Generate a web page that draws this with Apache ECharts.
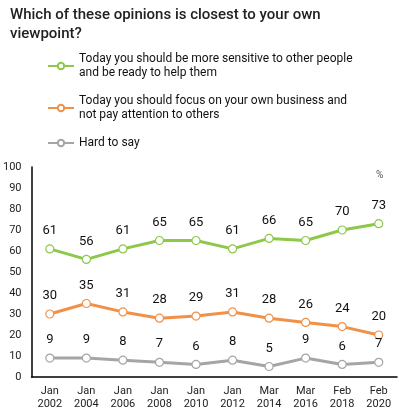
<!DOCTYPE html>
<html><head><meta charset="utf-8">
<script src="https://cdn.jsdelivr.net/npm/echarts@6/dist/echarts.min.js"></script>
<style>html,body{margin:0;padding:0;background:#fff}#c{width:399px;height:416px}</style>
</head><body><div id="c"></div>
<script>
const categories = ['Jan\n2002','Jan\n2004','Jan\n2006','Jan\n2008','Jan\n2010','Jan\n2012','Mar\n2014','Mar\n2016','Feb\n2018','Feb\n2020'];
const sensitive = [61,56,61,65,65,61,66,65,70,73];
const ownBusiness = [30,35,31,28,29,31,28,26,24,20];
const hardToSay = [9,9,8,7,6,8,5,9,6,7];
const seriesNames = ['Today you should be more sensitive to other people\nand be ready to help them','Today you should focus on your own business and\nnot pay attention to others','Hard to say'];
const colors = ['#8DC84A','#F0914A','#A5A5A5'];

const font = 'Roboto, "Noto Sans", sans-serif';
function mk(name, data, color){
  return {
    name, type:'line', data, color,
    symbol:'circle', symbolSize:8,
    itemStyle:{color:'#fff', borderColor:color, borderWidth:1.2},
    lineStyle:{color, width:3},
    label:{show:true, position:'top', distance:7, color:'#111', fontSize:13, fontFamily:font},
    emphasis:{disabled:true}, animation:false
  };
}
const chart = echarts.init(document.getElementById('c'));
chart.setOption({
  animation:false,
  title:{text:'Which of these opinions is closest to your own\nviewpoint?', left:10, top:6, padding:0,
    textStyle:{fontFamily:font, fontSize:15, fontWeight:500, color:'#222', lineHeight:19}},
  legend:{orient:'vertical', left:47, top:53, padding:0, itemWidth:26, itemHeight:8, itemGap:16,
    data: seriesNames,
    textStyle:{fontFamily:font, fontSize:12, color:'#111', lineHeight:14, verticalAlign:'top', padding:[-7,0,0,0]}},
  grid:{left:30, right:2, top:167, bottom:39},
  xAxis:{type:'category', data:categories, boundaryGap:true,
    axisLine:{lineStyle:{color:'#000', width:1.5}}, axisTick:{show:false},
    axisLabel:{fontFamily:font, fontSize:11, color:'#222', lineHeight:13, margin:8, interval:0}},
  yAxis:{type:'value', min:0, max:100, interval:10,
    axisLine:{show:true, lineStyle:{color:'#000', width:1.5}}, axisTick:{show:false}, splitLine:{show:false},
    axisLabel:{fontFamily:font, fontSize:11, color:'#222', margin:10}},
  graphic:[{type:'text', left:376, top:170, style:{text:'%', fontFamily:font, fontSize:10, fill:'#555'}}],
  series:[mk(seriesNames[0], sensitive, colors[0]), mk(seriesNames[1], ownBusiness, colors[1]), mk(seriesNames[2], hardToSay, colors[2])]
});
</script></body></html>
